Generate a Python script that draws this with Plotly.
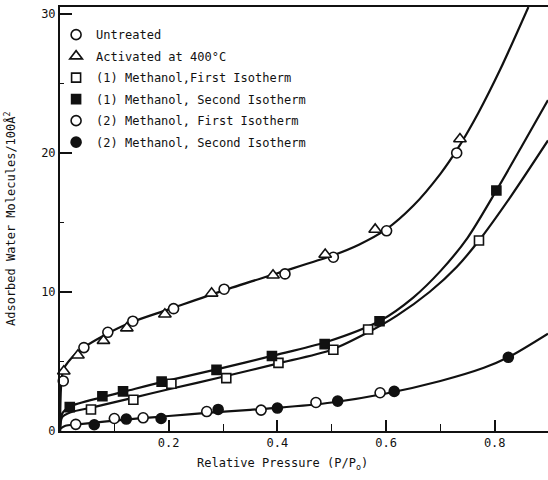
import plotly.graph_objects as go

# ---- data ----
untreated_x = [0.006, 0.044, 0.088, 0.134, 0.209, 0.302, 0.414, 0.503, 0.601, 0.730]
untreated_y = [3.6, 6.0, 7.1, 7.9, 8.8, 10.2, 11.3, 12.5, 14.4, 20.0]

activated_x = [0.007, 0.033, 0.080, 0.123, 0.193, 0.279, 0.392, 0.488, 0.580, 0.736]
activated_y = [4.3, 5.45, 6.5, 7.4, 8.4, 9.9, 11.2, 12.7, 14.5, 21.0]

m1_first_x = [0.057, 0.135, 0.205, 0.306, 0.402, 0.503, 0.567, 0.771]
m1_first_y = [1.55, 2.25, 3.4, 3.8, 4.9, 5.85, 7.3, 13.7]

m1_second_x = [0.018, 0.078, 0.116, 0.187, 0.288, 0.390, 0.487, 0.588, 0.803]
m1_second_y = [1.72, 2.5, 2.85, 3.55, 4.4, 5.4, 6.25, 7.9, 17.3]

m2_first_x = [0.029, 0.100, 0.153, 0.270, 0.370, 0.471, 0.589]
m2_first_y = [0.48, 0.9, 0.95, 1.4, 1.5, 2.05, 2.75]

m2_second_x = [0.063, 0.122, 0.186, 0.291, 0.400, 0.511, 0.615, 0.825]
m2_second_y = [0.45, 0.86, 0.9, 1.55, 1.65, 2.15, 2.85, 5.3]

# smooth fitted curves
curveA_x = [0.0, 0.002, 0.006, 0.02, 0.04, 0.08, 0.13, 0.2, 0.3, 0.4, 0.5, 0.55, 0.6, 0.65, 0.7, 0.73, 0.77, 0.81, 0.862]
curveA_y = [0.0, 3.2, 4.4, 5.2, 5.9, 6.85, 7.8, 8.75, 10.1, 11.35, 12.6, 13.4, 14.5, 16.2, 18.5, 20.2, 22.9, 26.0, 30.5]

curveB_x = [0.0, 0.004, 0.018, 0.08, 0.12, 0.19, 0.29, 0.39, 0.49, 0.59, 0.65, 0.7, 0.75, 0.803, 0.85, 0.898]
curveB_y = [0.0, 1.25, 1.75, 2.45, 2.85, 3.55, 4.45, 5.4, 6.4, 7.95, 9.6, 11.5, 13.9, 17.3, 20.5, 23.8]

curveC_x = [0.0, 0.004, 0.02, 0.06, 0.13, 0.2, 0.3, 0.4, 0.5, 0.567, 0.62, 0.68, 0.73, 0.771, 0.83, 0.898]
curveC_y = [0.0, 1.0, 1.35, 1.7, 2.35, 3.0, 3.9, 4.85, 5.85, 7.1, 8.3, 10.0, 11.8, 13.7, 16.9, 20.9]

curveD_x = [0.0, 0.01, 0.03, 0.06, 0.1, 0.15, 0.2, 0.27, 0.35, 0.4, 0.5, 0.6, 0.7, 0.78, 0.825, 0.898]
curveD_y = [0.15, 0.38, 0.47, 0.58, 0.75, 0.92, 1.08, 1.3, 1.52, 1.66, 2.05, 2.7, 3.6, 4.55, 5.3, 7.0]

x_ticks = [0.2, 0.4, 0.6, 0.8]
x_tick_labels = ["0.2", "0.4", "0.6", "0.8"]
x_minor = [0.1, 0.3, 0.5, 0.7]
y_ticks = [0, 10, 20, 30]
y_tick_labels = ["0", "10", "20", "30"]
y_minor = [5, 15, 25]

FONT = "DejaVu Sans Mono"
INK = "#111111"

fig = go.Figure()

for cx, cy in [(curveA_x, curveA_y), (curveB_x, curveB_y), (curveC_x, curveC_y), (curveD_x, curveD_y)]:
    fig.add_trace(go.Scatter(x=cx, y=cy, mode="lines", line=dict(color=INK, width=2.2, shape="spline", smoothing=0.8),
                             showlegend=False, hoverinfo="skip"))

# (name, x, y, symbol, filled?, size)
series = [
    ("Untreated", untreated_x, untreated_y, "circle", False, 10),
    ("Activated at 400°C", activated_x, activated_y, "triangle-up", False, 11),
    ("(1) Methanol,First Isotherm", m1_first_x, m1_first_y, "square", False, 9),
    ("(1) Methanol, Second Isotherm", m1_second_x, m1_second_y, "square", True, 9),
    ("(2) Methanol, First Isotherm", m2_first_x, m2_first_y, "circle", False, 10),
    ("(2) Methanol, Second Isotherm", m2_second_x, m2_second_y, "circle", True, 10),
]
for i, (name, sx, sy, sym, filled, sz) in enumerate(series):
    fig.add_trace(go.Scatter(
        x=sx, y=sy, mode="markers", name=name, legendgroup=f"g{i}", cliponaxis=False,
        marker=dict(symbol=sym, size=sz, color=INK if filled else "white",
                    line=dict(color=INK, width=1.6)),
    ))

fig.update_layout(
    width=548, height=480,
    margin=dict(l=60, r=0, t=7, b=49),
    paper_bgcolor="white", plot_bgcolor="white",
    font=dict(family=FONT, size=12, color=INK),
    showlegend=True,
    legend=dict(x=-0.008, y=0.969, xanchor="left", yanchor="top", bgcolor="rgba(0,0,0,0)",
                font=dict(family=FONT, size=12, color=INK), tracegroupgap=2.5,
                itemsizing="trace"),
    xaxis=dict(range=[0, 0.898], showgrid=False, zeroline=False,
               showline=True, linecolor=INK, linewidth=2, mirror=True,
               ticks="inside", ticklen=11, tickwidth=1.5, tickcolor=INK,
               tickvals=x_ticks, ticktext=x_tick_labels,
               minor=dict(tickvals=x_minor, ticks="inside", ticklen=7, tickwidth=1.2, tickcolor=INK),
               tickfont=dict(family=FONT, size=12, color=INK)),
    yaxis=dict(range=[0, 30.5], showgrid=False, zeroline=False,
               showline=True, linecolor=INK, linewidth=2,
               ticks="inside", ticklen=12, tickwidth=2, tickcolor=INK,
               tickvals=y_ticks, ticktext=y_tick_labels,
               minor=dict(tickvals=y_minor, ticks="inside", ticklen=4, tickwidth=1.2, tickcolor=INK),
               tickfont=dict(family=FONT, size=12, color=INK)),
    annotations=[
        dict(text="Relative Pressure (P/P<sub>o</sub>)", xref="x", x=0.41, yref="paper", y=0,
             yshift=-33, xanchor="center", yanchor="middle", showarrow=False,
             font=dict(family=FONT, size=12, color=INK)),
        dict(text="Adsorbed Water Molecules/100Å<sup>2</sup>", xref="paper", x=0, xshift=-50,
             yref="paper", y=0.5, textangle=-90, xanchor="center", yanchor="middle",
             showarrow=False, font=dict(family=FONT, size=12, color=INK)),
    ],
)

fig.write_html("out.html")
